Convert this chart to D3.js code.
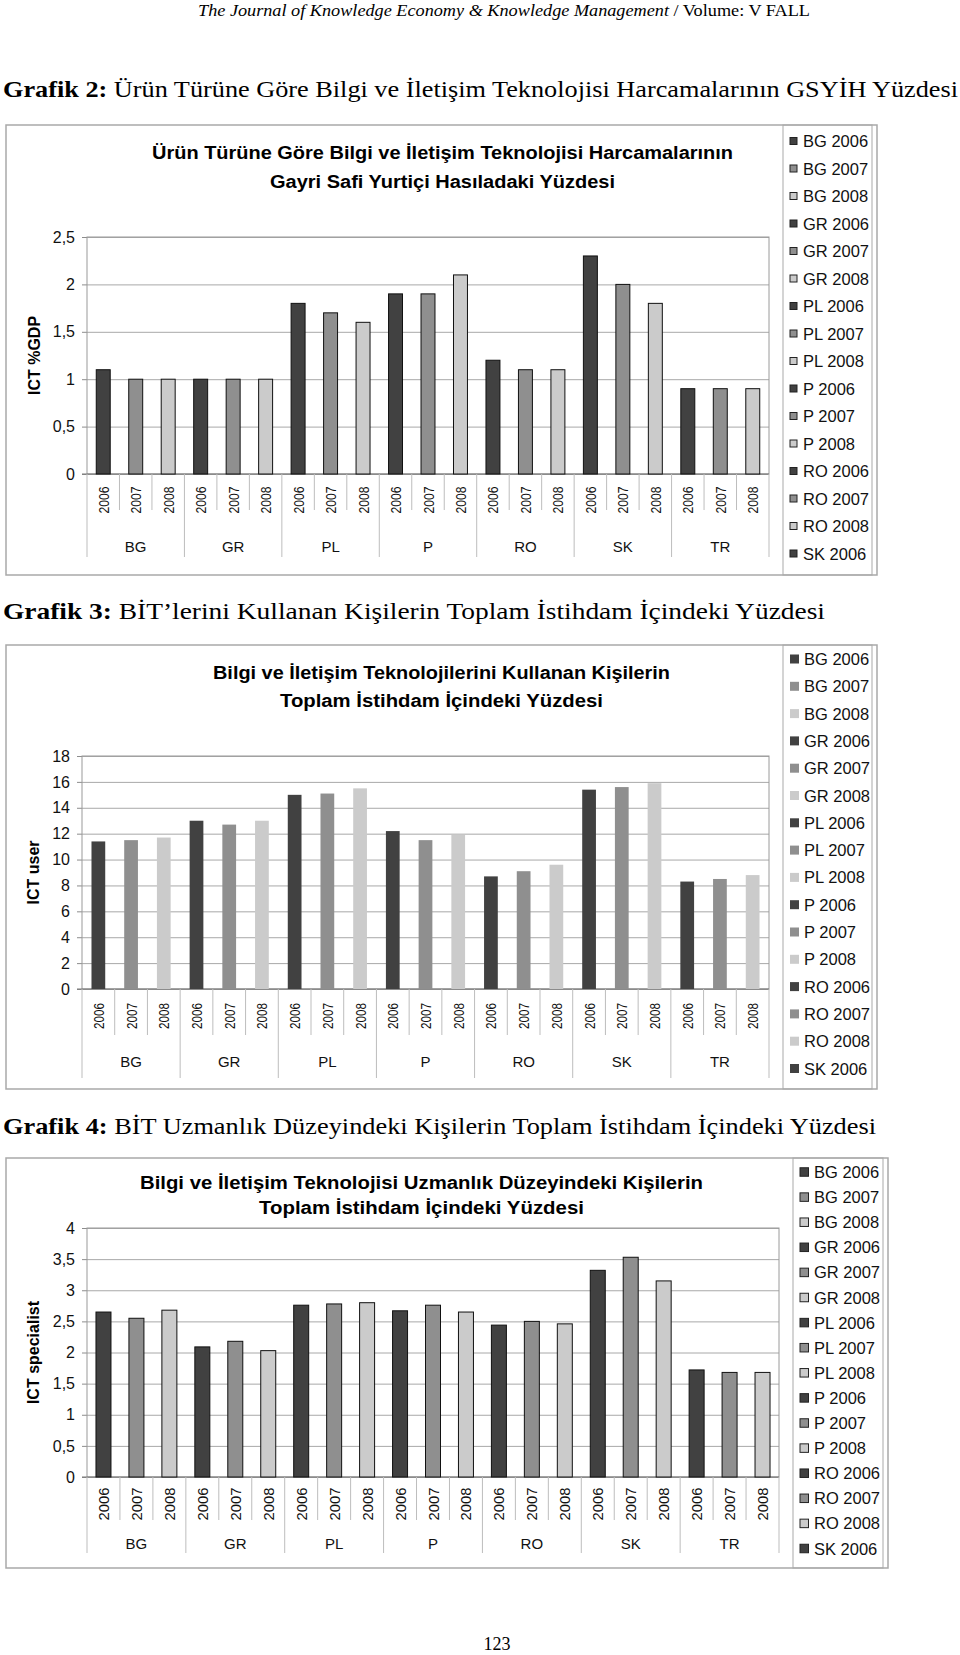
<!DOCTYPE html>
<html>
<head>
<meta charset="utf-8">
<script src="https://cdn.jsdelivr.net/npm/d3@7"></script>
<style>
  body { margin: 0; background: #fff; }
  svg { display: block; }
</style>
</head>
<body>
<svg id="page" width="960" height="1655"></svg>
<script>
// x axis: country groups, three years each (same for every chart)
var countries = ["BG", "GR", "PL", "P", "RO", "SK", "TR"]
var years = ["2006", "2007", "2008"]

// Grafik 2 - ICT %GDP
var gdpValues = [1.1, 1.0, 1.0,  1.0, 1.0, 1.0,  1.8, 1.7, 1.6,  1.9, 1.9, 2.1,
                 1.2, 1.1, 1.1,  2.3, 2.0, 1.8,  0.9, 0.9, 0.9]
var gdpTicks = [0, 0.5, 1, 1.5, 2, 2.5]

// Grafik 3 - ICT user
var userValues = [11.4, 11.5, 11.7,  13.0, 12.7, 13.0,  15.0, 15.1, 15.5,  12.2, 11.5, 11.9,
                  8.7, 9.1, 9.6,  15.4, 15.6, 15.9,  8.3, 8.5, 8.8]
var userTicks = [0, 2, 4, 6, 8, 10, 12, 14, 16, 18]

// Grafik 4 - ICT specialist
var specValues = [2.65, 2.55, 2.68,  2.09, 2.18, 2.03,  2.76, 2.78, 2.80,  2.67, 2.76, 2.65,
                  2.44, 2.50, 2.46,  3.32, 3.53, 3.15,  1.72, 1.68, 1.68]
var specTicks = [0, 0.5, 1, 1.5, 2, 2.5, 3, 3.5, 4]

var barColors = ["#414141", "#8f8f8f", "#cbcbcb"]
var sans = "'Liberation Sans', Arial, sans-serif"
var serif = "'Liberation Serif', 'Times New Roman', serif"

var comma = d3.formatLocale({decimal: ",", thousands: ".", grouping: [3], currency: ["", ""]}).format("~g")

var svg = d3.select('#page')

// page texts
var header = svg.append('text')
  .attr('x', 198).attr('y', 16)
  .attr('font-family', serif).attr('font-size', 16)
  .attr('textLength', 612).attr('lengthAdjust', 'spacingAndGlyphs')
header.append('tspan').attr('font-style', 'italic').text('The Journal of Knowledge Economy & Knowledge Management')
header.append('tspan').text(' / Volume: V FALL')

function heading(y, bold, rest, len) {
  var t = svg.append('text')
    .attr('x', 3).attr('y', y)
    .attr('font-family', serif).attr('font-size', 24)
    .attr('textLength', len).attr('lengthAdjust', 'spacingAndGlyphs')
  t.append('tspan').attr('font-weight', 'bold').text(bold)
  t.append('tspan').text(rest)
}
heading(97, 'Grafik 2:', ' Ürün Türüne Göre Bilgi ve İletişim Teknolojisi Harcamalarının GSYİH Yüzdesi', 955)
heading(619, 'Grafik 3:', ' BİT’lerini Kullanan Kişilerin Toplam İstihdam İçindeki Yüzdesi', 822)
heading(1134, 'Grafik 4:', ' BİT Uzmanlık Düzeyindeki Kişilerin Toplam İstihdam İçindeki Yüzdesi', 873)

svg.append('text')
  .attr('x', 497).attr('y', 1650)
  .attr('text-anchor', 'middle')
  .attr('font-family', serif).attr('font-size', 18)
  .text('123')

var legendLabels = d3.cross(countries, years).map(d => d[0] + ' ' + d[1])

function drawChart(o) {
  var g = svg.append('g')
  var n = o.values.length

  // chart frame
  g.append('rect')
    .attr('x', o.box[0]).attr('y', o.box[1])
    .attr('width', o.box[2] - o.box[0]).attr('height', o.box[3] - o.box[1])
    .attr('fill', '#fff').attr('stroke', '#a9a9a9').attr('stroke-width', 1.5)

  // title
  o.title.forEach(function (line, i) {
    g.append('text')
      .attr('x', o.titleX).attr('y', o.titleY[i])
      .attr('text-anchor', 'middle')
      .attr('font-family', sans).attr('font-weight', 'bold').attr('font-size', 18)
      .attr('textLength', o.titleLen[i]).attr('lengthAdjust', 'spacingAndGlyphs')
      .text(line)
  })

  var slot = d3.scaleLinear().domain([0, n]).range([o.plot[0], o.plot[1]])
  var x = d3.scaleBand()
    .domain(d3.range(n))
    .range([o.plot[0], o.plot[1]])
    .paddingInner(1 - o.barRatio)
    .paddingOuter((1 - o.barRatio) / 2)
  var y = d3.scaleLinear()
    .domain([0, d3.max(o.ticks)])
    .range([o.plot[3], o.plot[2]])
  var w = o.plot[1] - o.plot[0]

  // gridlines
  var grid = g.append('g')
    .attr('transform', 'translate(' + o.plot[0] + ',0)')
    .call(d3.axisLeft(y).tickValues(o.ticks).tickSize(-w).tickFormat(''))
  grid.select('.domain').remove()
  grid.selectAll('line').attr('stroke', '#a8a8a8')

  // y labels with small outer ticks
  var yAxis = g.append('g')
    .attr('transform', 'translate(' + o.plot[0] + ',0)')
    .call(d3.axisLeft(y).tickValues(o.ticks).tickSize(5).tickPadding(7).tickFormat(comma))
  yAxis.select('.domain').remove()
  yAxis.selectAll('line').attr('stroke', '#8c8c8c')
  yAxis.selectAll('text')
    .attr('font-family', sans).attr('font-size', 16).attr('fill', '#111')

  // plot border
  g.append('rect')
    .attr('x', o.plot[0]).attr('y', o.plot[2])
    .attr('width', w).attr('height', o.plot[3] - o.plot[2])
    .attr('fill', 'none').attr('stroke', '#9a9a9a')
  g.append('line')
    .attr('x1', o.plot[0] - 5).attr('x2', o.plot[1])
    .attr('y1', y(0)).attr('y2', y(0))
    .attr('stroke', '#777')

  // axis title
  g.append('text')
    .attr('transform', 'translate(' + o.axisX + ',' + ((o.plot[2] + o.plot[3]) / 2) + ') rotate(-90)')
    .attr('text-anchor', 'middle').attr('dominant-baseline', 'central')
    .attr('font-family', sans).attr('font-weight', 'bold').attr('font-size', 16)
    .text(o.axisTitle)

  // bars
  g.selectAll('.bar')
    .data(o.values)
    .enter()
    .append('rect')
      .classed('bar', true)
      .attr('x', (d, i) => x(i))
      .attr('y', d => y(d))
      .attr('width', x.bandwidth())
      .attr('height', d => y(0) - y(d))
      .attr('fill', (d, i) => barColors[i % 3])
      .attr('stroke', o.outline ? '#111' : 'none')
      .attr('stroke-width', 1)

  // category separators under the plot
  g.selectAll('.sep')
    .data(d3.range(n + 1))
    .enter()
    .append('line')
      .classed('sep', true)
      .attr('x1', i => slot(i)).attr('x2', i => slot(i))
      .attr('y1', y(0))
      .attr('y2', i => i % 3 === 0 ? o.longSep : o.shortSep)
      .attr('stroke', '#bdbdbd')

  // year labels
  g.selectAll('.year')
    .data(o.values)
    .enter()
    .append('text')
      .classed('year', true)
      .attr('transform', (d, i) => 'translate(' + slot(i + 0.5) + ',' + o.yearY + ') rotate(-90)')
      .attr('text-anchor', 'middle').attr('dominant-baseline', 'central')
      .attr('font-family', sans).attr('font-size', 15)
      .attr('textLength', o.yearLen).attr('lengthAdjust', 'spacingAndGlyphs')
      .attr('fill', '#111')
      .text((d, i) => years[i % 3])

  // country labels
  g.selectAll('.country')
    .data(countries)
    .enter()
    .append('text')
      .classed('country', true)
      .attr('x', (d, i) => slot(i * 3 + 1.5))
      .attr('y', o.countryY)
      .attr('text-anchor', 'middle').attr('dominant-baseline', 'central')
      .attr('font-family', sans).attr('font-size', 15)
      .attr('fill', '#111')
      .text(d => d)

  // legend: the frame cuts it off, so only the rows that fit are shown
  var L = o.legend
  var shown = legendLabels.filter((d, i) => L.first + i * L.step + 8 <= o.box[3])
  var rows = g.selectAll('.key')
    .data(shown)
    .enter()
    .append('g')
      .classed('key', true)
      .attr('transform', (d, i) => 'translate(0,' + (L.first + i * L.step) + ')')
  rows.append('rect')
    .attr('x', L.sqX).attr('y', -L.sq / 2)
    .attr('width', L.sq).attr('height', L.sq)
    .attr('fill', (d, i) => barColors[i % 3])
    .attr('stroke', o.outline ? '#222' : 'none')
  rows.append('text')
    .attr('x', L.textX).attr('y', 0)
    .attr('dominant-baseline', 'central')
    .attr('font-family', sans).attr('font-size', 16.5)
    .attr('fill', '#111')
    .text(d => d)
  g.append('rect')
    .attr('x', L.x).attr('y', o.box[1])
    .attr('width', L.right - L.x).attr('height', o.box[3] - o.box[1])
    .attr('fill', 'none').attr('stroke', '#a9a9a9')
}

drawChart({
  values: gdpValues, ticks: gdpTicks, axisTitle: 'ICT %GDP', outline: true,
  box: [6, 125, 877, 575], plot: [87, 769, 237, 474], barRatio: 0.43,
  title: ['Ürün Türüne Göre Bilgi ve İletişim Teknolojisi Harcamalarının', 'Gayri Safi Yurtiçi Hasıladaki Yüzdesi'],
  titleX: 442.5, titleY: [159, 188], titleLen: [581, 345],
  axisX: 34, yearY: 500, yearLen: 27, shortSep: 510, longSep: 557, countryY: 546,
  legend: {x: 783, right: 872, first: 141, step: 27.5, sq: 7, sqX: 790, textX: 803}
})

drawChart({
  values: userValues, ticks: userTicks, axisTitle: 'ICT user', outline: false,
  box: [6, 645, 877, 1089], plot: [82, 769, 756, 989], barRatio: 0.42,
  title: ['Bilgi ve İletişim Teknolojilerini Kullanan Kişilerin', 'Toplam İstihdam İçindeki Yüzdesi'],
  titleX: 441.5, titleY: [679, 707], titleLen: [457, 323],
  axisX: 33, yearY: 1016, yearLen: 26, shortSep: 1035, longSep: 1078, countryY: 1061,
  legend: {x: 783, right: 872, first: 659, step: 27.3, sq: 9, sqX: 790, textX: 804}
})

drawChart({
  values: specValues, ticks: specTicks, axisTitle: 'ICT specialist', outline: true,
  box: [6, 1158, 888, 1568], plot: [87, 779, 1228, 1477], barRatio: 0.455,
  title: ['Bilgi ve İletişim Teknolojisi Uzmanlık Düzeyindeki Kişilerin', 'Toplam İstihdam İçindeki Yüzdesi'],
  titleX: 421.5, titleY: [1189, 1214], titleLen: [563, 325],
  axisX: 33, yearY: 1504, yearLen: 33, shortSep: 1520, longSep: 1553, countryY: 1543,
  legend: {x: 793, right: 883, first: 1172, step: 25.1, sq: 8.5, sqX: 800, textX: 814}
})
</script>
</body>
</html>
